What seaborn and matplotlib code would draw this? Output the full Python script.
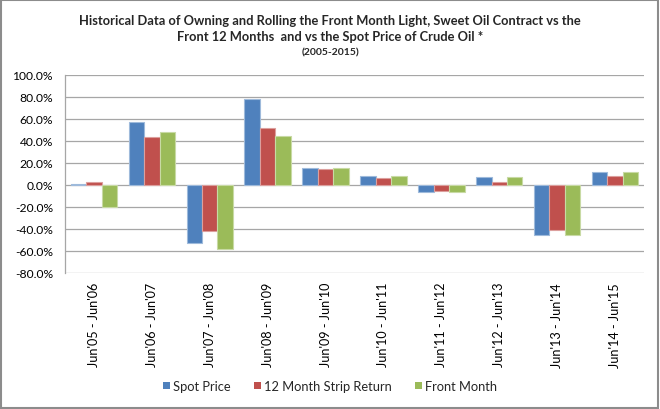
import matplotlib
matplotlib.use("Agg")
import matplotlib.pyplot as plt
from matplotlib.patches import Rectangle
from matplotlib.ticker import FuncFormatter, MultipleLocator
import seaborn as sns
import pandas as pd

periods = ["Jun'05 - Jun'06", "Jun'06 - Jun'07", "Jun'07 - Jun'08", "Jun'08 - Jun'09",
           "Jun'09 - Jun'10", "Jun'10 - Jun'11", "Jun'11 - Jun'12", "Jun'12 - Jun'13",
           "Jun'13 - Jun'14", "Jun'14 - Jun'15"]
spot_price = [1.0, 57.6, -53.0, 78.2, 15.8, 8.5, -6.7, 7.6, -45.7, 11.8]
strip_12m = [3.0, 44.0, -41.5, 52.1, 14.2, 6.0, -5.5, 3.0, -40.9, 8.5]
front_month = [-20.0, 47.9, -57.9, 44.9, 15.8, 8.5, -6.7, 7.6, -45.7, 11.8]
series_names = ["Spot Price", "12 Month Strip Return", "Front Month"]
colors = ["#4F81BD", "#C0504D", "#9BBB59"]
title_lines = ["Historical Data of Owning and Rolling the Front Month Light, Sweet Oil Contract vs the",
               "Front 12 Months  and vs the Spot Price of Crude Oil *"]
subtitle = "(2005-2015)"

rows = []
for name, vals in zip(series_names, [spot_price, strip_12m, front_month]):
    for p, v in zip(periods, vals):
        rows.append({"period": p, "series": name, "value": v})
df = pd.DataFrame(rows)

sns.set_theme(style="white")
plt.rcParams['font.family'] = ['Lato', 'DejaVu Sans']

DPI = 100
fig = plt.figure(figsize=(6.6, 4.1), dpi=DPI)
ax = fig.add_axes([65/660, (410-274)/410, (644-65)/660, (274-76)/410])

sns.barplot(data=df, x="period", y="value", hue="series", order=periods,
            hue_order=series_names, palette=colors, width=0.8, ax=ax,
            errorbar=None, saturation=1, legend=False)

for bar in ax.patches:
    r, g, b, a = bar.get_facecolor()
    bar.set_edgecolor((r + (1 - r) * 0.45, g + (1 - g) * 0.45, b + (1 - b) * 0.45, 1))
    bar.set_linewidth(0.8)

ax.set_ylim(-80, 100)
ax.yaxis.set_major_locator(MultipleLocator(20))
ax.yaxis.set_major_formatter(FuncFormatter(lambda v, p: f"{v:.1f}%"))
ax.set_xlim(-0.5, len(periods) - 0.5)
ax.grid(axis="y", color="#A6A6A6", linewidth=0.9)
ax.set_axisbelow(True)
for s in ["top", "right", "bottom"]:
    ax.spines[s].set_visible(False)
ax.spines["left"].set_color("#A6A6A6")
ax.spines["left"].set_linewidth(0.9)
ax.set_xlabel("")
ax.set_ylabel("")

renderer = fig.canvas.get_renderer()


def fit_size(text, target_px, bold=False, rotated=False, start=9.0):
    fs = start
    for _ in range(3):
        t = fig.text(0, 0, text, fontsize=fs, fontweight="bold" if bold else "normal",
                     rotation=90 if rotated else 0)
        bb = t.get_window_extent(renderer)
        w = bb.height if rotated else bb.width
        t.remove()
        fs = fs * target_px / w
    return fs


title_fs = fit_size(title_lines[0], 503, bold=True)
sub_fs = fit_size(subtitle, 58, bold=True, start=7)
xtick_fs = fit_size(periods[0], 84, rotated=True)
ytick_fs = fit_size("100.0%", 41)
leg_fs = fit_size(series_names[1], 128)

ax.tick_params(axis="y", labelsize=ytick_fs, colors="#000000", length=0, pad=12 * 72 / DPI)
ax.tick_params(axis="x", labelsize=xtick_fs, colors="#000000", length=0, pad=9 * 72 / DPI)
plt.setp(ax.get_xticklabels(), rotation=90)

fig.text(0.5, 1 - 21/410, title_lines[0], ha="center", va="center", fontsize=title_fs, fontweight="bold")
fig.text(0.5, 1 - 37/410, title_lines[1], ha="center", va="center", fontsize=title_fs, fontweight="bold")
fig.text(0.5, 1 - 53/410, subtitle, ha="center", va="center", fontsize=sub_fs, fontweight="bold")

fpx = leg_fs * DPI / 72
handles = [Rectangle((0, 0), 1, 1, facecolor=c, edgecolor="none") for c in colors]
fig.legend(handles, series_names, loc="center", bbox_to_anchor=(0.5, 1 - 387/410),
           ncol=3, frameon=False, fontsize=leg_fs, handlelength=7 / fpx, handleheight=7 / fpx,
           handletextpad=3 / fpx, columnspacing=23 / fpx, borderpad=0)

fig.patches.append(Rectangle((0.002, 0.003), 0.995, 0.994, transform=fig.transFigure,
                             fill=False, edgecolor="#8C8C8C", linewidth=1.5))

fig.savefig("out.png", dpi=DPI)
